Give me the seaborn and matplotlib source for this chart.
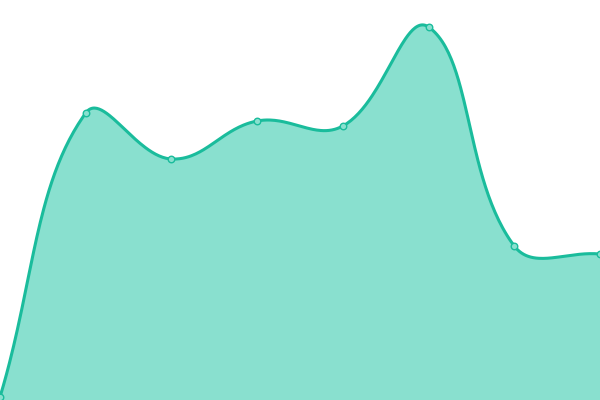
import numpy as np
import matplotlib
matplotlib.use("Agg")
import matplotlib.pyplot as plt
import seaborn as sns

# data
labels = ["1", "2", "3", "4", "5", "6", "7", "8"]
values = [3, 287, 241, 279, 274, 373, 154, 146]

line_color = "#1abc9c"
fill_color = "#89e0cf"

sns.set_style("white")

x = np.arange(len(values), dtype=float)
y = np.array(values, dtype=float)

# smooth curve like a tension 0.4 bezier spline, computed in pixel units
sx = 600 / (len(values) - 1)
px, py = x * sx, y
tension = 0.4
cp_prev = []
cp_next = []
n = len(px)
for i in range(n):
    p0 = (px[max(i - 1, 0)], py[max(i - 1, 0)])
    p1 = (px[i], py[i])
    p2 = (px[min(i + 1, n - 1)], py[min(i + 1, n - 1)])
    d01 = np.hypot(p1[0] - p0[0], p1[1] - p0[1])
    d12 = np.hypot(p2[0] - p1[0], p2[1] - p1[1])
    s01 = d01 / (d01 + d12) if d01 + d12 else 0
    s12 = d12 / (d01 + d12) if d01 + d12 else 0
    fa, fb = tension * s01, tension * s12
    cp_prev.append((p1[0] - fa * (p2[0] - p0[0]), p1[1] - fa * (p2[1] - p0[1])))
    cp_next.append((p1[0] + fb * (p2[0] - p0[0]), p1[1] + fb * (p2[1] - p0[1])))

t = np.linspace(0, 1, 60)
cx, cy = [], []
for i in range(n - 1):
    a = np.array([px[i], py[i]])
    b = np.array(cp_next[i])
    c = np.array(cp_prev[i + 1])
    d = np.array([px[i + 1], py[i + 1]])
    pts = ((1 - t) ** 3)[:, None] * a + (3 * (1 - t) ** 2 * t)[:, None] * b \
        + (3 * (1 - t) * t ** 2)[:, None] * c + (t ** 3)[:, None] * d
    cx.extend(pts[:, 0])
    cy.extend(pts[:, 1])
cx = np.array(cx) / sx
cy = np.array(cy)

fig = plt.figure(figsize=(6, 4), dpi=100)
ax = fig.add_axes([0, 0, 1, 1])
ax.fill_between(cx, 0, cy, color=fill_color, lw=0, zorder=1)
ax.plot(cx, cy, color=line_color, lw=2.2, zorder=2, solid_capstyle="round")
sns.scatterplot(x=x, y=y, ax=ax, s=22, color=fill_color, edgecolor=line_color,
                linewidth=1, zorder=3, legend=False)
ax.set_xlim(0, len(values) - 1)
ax.set_ylim(0, 400)
ax.axis("off")
fig.savefig("out.png", dpi=100)
